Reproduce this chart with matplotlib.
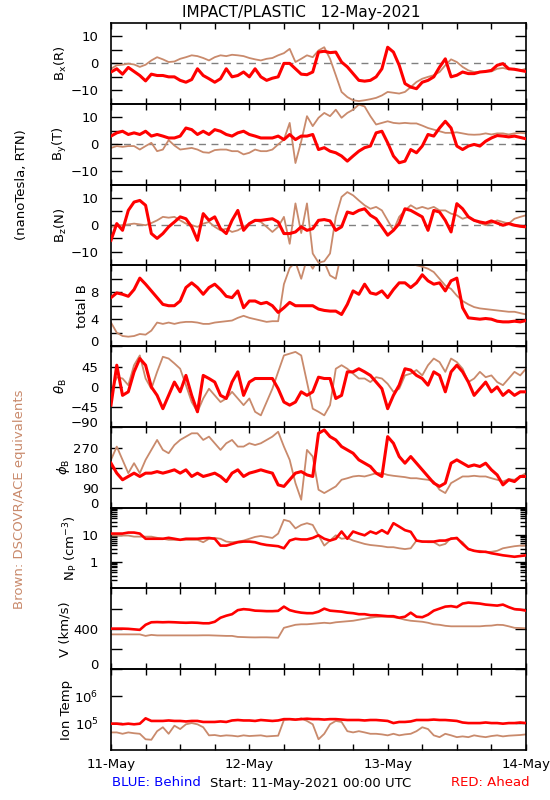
import numpy as np
import matplotlib
matplotlib.use("Agg")
import matplotlib.pyplot as plt
from matplotlib.ticker import FixedLocator, NullLocator, LogLocator

# ---------------- data (hourly readings, 11-May-2021 00:00 UTC .. 14-May 00:00) -------------
hours = list(range(0, 73))

bx_red = [-3.2, -2, -4, -1.5, -3, -4.5, -6.5, -4, -4.5, -4.5, -5, -5, -6.3, -7, -6, -2, -4.5, -5.7,
          -7, -5.7, -2, -5, -4.5, -3.2, -5, -2, -5, -6.3, -5.5, -5, 0, 0, -2, -4, -4.2, -3.2,
          4.2, 4.5, 4, 4.2, 0.5, -1.3, -3.8, -6.3, -6.6, -6.3, -5, -2, 6, 4.2, -0.7, -7.5,
          -8.8, -9.4, -7, -6.3, -5, -1.4, 1.7, -5, -4.4, -3.2, -3.8, -3.8, -3.2, -3, -2.6, -0.7,
          -0.1, -2, -2.2, -2.6, -3]
bx_brown = [-2, -0.7, -0.5, -0.1, -0.4, -1.3, -0.5, 1.1, 2.3, 1.5, 0.5, 0.7, 1.7, 2.3, 3, 2.7,
            2, 1.1, 2.3, 3, 2.7, 3.2, 3, 2.7, 2, 1.5, 1.1, 1.7, 2, 3, 3.8, 5.4, 0.5, 1.7, 3,
            2.3, 4.8, 6, 1.7, -4.4, -10.6, -12.5, -13.7, -14, -13.7, -13.3, -12.8, -11.9,
            -10.6, -10.9, -11.2, -10.6, -8.8, -6.9, -5.7, -5, -4.4, -3.2, -0.7, 1.5, 0.5,
            -1.3, -2.6, -3.2, -3.2, -3, -3, -2, -1.7, -2.2, -2, -2.6, -2]

by_red = [3, 4.2, 4.8, 3.6, 4.2, 3.6, 4.8, 3, 3.6, 3, 2.3, 2.3, 3, 6, 5.4, 3.6, 4.8, 3.6, 5.4,
          4.8, 3.6, 3, 4.2, 4.8, 3.6, 3, 2.3, 2.3, 2.3, 3, 1.7, 3.6, 1.7, 3, 3, 3.6, -2, -1.3,
          -2.6, -3.2, -4.4, -6.3, -4.4, -2.6, -1.3, -0.7, 4.2, 4.8, 0.5, -4.4, -6.9, -6.3, -2,
          -3.2, -0.7, 3.6, 3, 6, 8.5, 6, -0.7, -2, -0.7, -0.1, -0.7, 1.1, 2.3, 3.2, 3, 2.7, 3,
          2.5, 2]
by_brown = [-1.4, -0.7, -1, -0.7, -0.7, -2, -0.7, 0.5, -2.6, -2, 1.5, -0.5, -2, -1.7, -1.4, -2,
            -3, -3.2, -2.2, -2, -2, -2.6, -2.6, -3.8, -3.2, -2, -2.6, -2.6, -2, -0.1, 1.7, 7.9,
            -7, 1, 10.4, 6.7, 9.8, 11.6, 10.4, 12.8, 9.8, 11.6, 12.8, 14.7, 14, 10.4, 7.3, 7.9,
            8.5, 7.9, 7.7, 7.9, 7.7, 7.7, 6.9, 6, 5.4, 4.8, 4.2, 4.2, 4.4, 4, 3.6, 3.5, 3.6, 4,
            3.6, 4, 4, 3.6, 4, 4.2, 4]

bz_red = [-5.7, 0.5, -2, 5.4, 8.5, 9.1, 7.3, -3.2, -5, -3.2, -0.7, 1.1, 3, 2.3, -0.7, -5.7, 4.2,
          1.7, 3, -1.4, -3.2, 1.7, 5.4, -2, 0.5, 1.7, 1.7, 2, 2.3, 1.1, -3.2, -3.2, -2.6, -0.7,
          -2, -1.4, 1.7, 2, 1.5, -2, -0.7, 4.8, 4.2, 5.4, 6, 3.6, 2.3, -0.7, -3.8, -2, 0.5, 6,
          5.4, 4.2, 3, -2, 5.4, 4.8, 1.7, -2.6, 7.9, 6, 3, 1.7, 1.1, 0.7, 1.5, 0.7, -0.1, 0.5,
          -0.1, -0.5, -0.7]
bz_brown = [-0.7, -0.5, -0.1, 0.2, 0.5, 0.2, -0.1, 0.7, 1.7, 3, 2.7, 3, 1.7, 0.5, -0.1, -0.7,
            0.5, 1.1, -0.7, -2, -1.4, -2.6, -2, -0.7, 0.5, 1.7, 1.1, -0.7, -2.6, -0.7, 3, -7,
            8, -3, 8, -10.6, -14, -13.5, -10.6, 3, 10.4, 12.2, 11, 9.1, 7.3, 6, 6.7, 5.4, 1.7,
            -2, 3, 5.4, 7.3, 6, 6.7, 6, 6.7, 5.4, 5.4, 4.2, 3.6, 2.3, 3, 1.7, 0.7, -0.1, 0.7,
            1.7, 1.1, 0.5, 2.3, 3, 3.6]

bt_red = [7.2, 7.9, 7.7, 7.4, 8.4, 10.1, 9.2, 8.2, 7.2, 6.2, 6, 6, 6.7, 8.7, 9.4, 8.7, 7.7, 8.7,
          9.2, 8.4, 7.4, 7.2, 8.2, 5.7, 6.7, 6.7, 6.3, 6.5, 6, 5, 5.7, 6.5, 6, 6, 6, 6, 5.5,
          5.3, 5.2, 5.2, 4.7, 6.2, 8.2, 7.7, 9.2, 7.9, 7.7, 8.2, 7.2, 8.4, 9.4, 9.4, 8.7, 9.4,
          10.6, 9.7, 9.2, 9.4, 8.2, 9.7, 10.1, 5.7, 4.2, 4.1, 4, 4.1, 4, 3.7, 3.6, 3.6, 3.7,
          3.6, 3.8]
bt_brown = [3.5, 2, 1.5, 1.4, 1.5, 1.8, 1.7, 2.3, 3.5, 3.3, 3.5, 3.3, 3.5, 3.6, 3.6, 3.5, 3.3,
            3.3, 3.5, 3.6, 3.7, 3.8, 4.2, 4.5, 4.2, 4, 3.8, 3.6, 3.7, 3.7, 9.2, 11.6, 12.5, 10,
            13, 11.5, 13, 12.5, 10.5, 10, 14, 14.5, 15, 15, 15, 14.5, 14, 14, 13.5, 13.5, 13,
            12.8, 12.4, 12, 11.8, 11.5, 11, 10, 9, 8.5, 7.5, 6.7, 6.2, 5.8, 5.6, 5.5, 5.4, 5.3,
            5.2, 5.1, 5.1, 4.9, 4.7]

th_red = [-41, 49, -19, -11, 34, 64, 49, 0, -19, -49, -19, 11, -11, 26, -19, -56, 26, 19, 11,
          -19, -26, 11, 34, -19, 11, 19, 19, 19, 19, -4, -34, -41, -34, -11, -19, -11, 22, 19,
          19, -26, -19, 34, 34, 41, 34, 26, 11, -4, -49, -19, 4, 41, 38, 26, 19, 4, 34, 26,
          -11, 34, 49, 34, 11, -19, -4, 11, -11, 0, -19, -8, -19, -11, -11]
th_brown = [-11, 22, 19, 4, 49, 71, 19, -4, 34, 68, 64, 53, 41, 4, -34, -56, -26, -4, -19, -34,
            -26, -11, -26, -41, -26, -56, -64, -34, -4, 34, 71, 75, 79, 71, 11, -49, -56, -64,
            -41, 41, 49, 41, 30, 19, 19, 11, 22, 19, 7, -11, -4, 26, 30, 38, 26, 49, 64, 56,
            34, 64, 56, 41, 11, 19, 34, 22, 26, 11, 4, 19, 34, 26, 41]

ph_red = [201, 156, 126, 141, 156, 141, 156, 156, 163, 156, 163, 171, 156, 171, 141, 156, 141,
          148, 156, 141, 118, 156, 171, 141, 156, 163, 171, 163, 156, 103, 96, 126, 156, 163,
          148, 141, 336, 351, 321, 306, 276, 261, 246, 216, 201, 186, 156, 141, 321, 291, 231,
          201, 231, 201, 171, 141, 111, 96, 111, 201, 216, 201, 186, 193, 186, 201, 171, 148,
          103, 126, 118, 141, 141]
ph_brown = [216, 276, 216, 156, 201, 156, 216, 261, 306, 261, 246, 283, 306, 321, 336, 336,
            306, 321, 291, 261, 291, 306, 276, 276, 291, 283, 291, 306, 321, 343, 276, 216,
            111, 36, 261, 231, 81, 66, 81, 96, 126, 133, 141, 144, 141, 148, 156, 156, 148,
            144, 141, 138, 133, 133, 129, 126, 118, 81, 66, 111, 126, 141, 141, 144, 141, 141,
            133, 126, 118, 129, 126, 141, 156]

np_red = [10.9, 10.9, 10.9, 11.9, 11.9, 10.9, 7.0, 7.0, 7.0, 7.0, 7.6, 7.0, 6.4, 7.0, 7.0, 7.0,
          7.3, 7.5, 7.0, 3.9, 3.9, 4.5, 5.2, 5.5, 5.5, 5.2, 4.5, 4.1, 3.9, 3.7, 3.1, 6.0, 7.0,
          6.6, 6.6, 7.5, 9.4, 7.0, 6.0, 7.0, 13.0, 7.0, 13.0, 10.9, 9.4, 13.0, 10.9, 14.6,
          10.9, 26.5, 19.8, 14.6, 12.7, 6.0, 5.5, 5.5, 5.5, 6.0, 6.0, 7.0, 7.5, 4.5, 2.9, 2.5,
          2.3, 2.3, 2.03, 1.86, 1.7, 1.6, 1.5, 1.6, 1.7]
np_brown = [9.2, 9.2, 9.2, 9.2, 8.4, 8.4, 8.4, 8.4, 7.6, 7.0, 6.4, 6.4, 6.4, 6.4, 6.4, 6.4, 5.2,
            7.0, 7.5, 7.0, 5.5, 5.2, 5.5, 6.0, 7.0, 8.2, 8.9, 8.2, 7.5, 10.9, 35.5, 30.8, 17,
            22.8, 26.5, 22.8, 9.4, 3.9, 6.0, 9.4, 7.0, 7.5, 6.0, 5.2, 4.5, 4.1, 3.9, 3.7, 3.4,
            3.4, 3.1, 2.9, 3.1, 6.0, 5.5, 5.2, 5.2, 3.9, 4.5, 7.5, 7.0, 5.2, 2.9, 2.5, 2.5, 2.2,
            2.3, 2.5, 3.1, 3.4, 3.7, 3.9, 3.9]

v_red = [402, 402, 402, 400, 395, 390, 440, 465, 467, 465, 467, 465, 462, 460, 462, 460, 455,
         455, 470, 510, 530, 545, 585, 595, 590, 580, 578, 575, 575, 578, 620, 585, 570, 560,
         555, 555, 570, 600, 580, 575, 570, 560, 555, 545, 545, 535, 535, 530, 525, 525, 510,
         520, 560, 520, 515, 540, 580, 600, 620, 625, 615, 650, 660, 655, 650, 640, 635, 630,
         640, 615, 595, 590, 580]
v_brown = [345, 345, 345, 345, 345, 345, 330, 340, 335, 335, 335, 335, 335, 335, 335, 335, 336,
           336, 334, 332, 330, 330, 320, 318, 316, 315, 316, 316, 314, 312, 410, 425, 440, 445,
           445, 450, 455, 460, 455, 465, 470, 475, 480, 490, 500, 510, 518, 520, 520, 515, 505,
           490, 480, 475, 470, 460, 445, 440, 430, 425, 425, 425, 425, 425, 425, 430, 432, 440,
           438, 425, 410, 408, 405]

t_red = [0.95e5, 0.95e5, 0.9e5, 0.95e5, 0.9e5, 0.95e5, 1.5e5, 1.2e5, 1.2e5, 1.2e5, 1.25e5,
         1.2e5, 1.2e5, 1.15e5, 1.2e5, 1.2e5, 1.1e5, 1.1e5, 1.1e5, 1.15e5, 1.1e5, 1.25e5, 1.3e5,
         1.25e5, 1.25e5, 1.2e5, 1.3e5, 1.25e5, 1.2e5, 1.25e5, 1.4e5, 1.4e5, 1.35e5, 1.4e5,
         1.45e5, 1.4e5, 1.4e5, 1.35e5, 1.4e5, 1.4e5, 1.35e5, 1.3e5, 1.3e5, 1.3e5, 1.25e5,
         1.3e5, 1.3e5, 1.25e5, 1.2e5, 1.0e5, 1.1e5, 1.1e5, 1.15e5, 1.3e5, 1.3e5, 1.3e5,
         1.35e5, 1.3e5, 1.3e5, 1.25e5, 1.2e5, 1.05e5, 1.0e5, 1.0e5, 1.0e5, 1.05e5, 1.0e5,
         1.0e5, 0.95e5, 1.0e5, 1.0e5, 1.05e5, 1.0e5]
t_brown = [4.5e4, 4.5e4, 4.0e4, 4.5e4, 4.2e4, 4.0e4, 2.5e4, 2.4e4, 5.0e4, 7.0e4, 4.0e4, 8.0e4,
           6.0e4, 9.0e4, 1.0e5, 9.0e4, 7.0e4, 3.5e4, 3.6e4, 3.3e4, 3.5e4, 3.4e4, 3.2e4,
           3.5e4, 3.3e4, 3.4e4, 3.5e4, 3.2e4, 3.3e4, 3.4e4, 1.3e5, 1.4e5, 1.3e5, 1.5e5,
           1.2e5, 9.0e4, 2.5e4, 4.0e4, 9.0e4, 1.2e5, 1.1e5, 5.0e4, 4.5e4, 5.0e4, 4.5e4,
           4.0e4, 4.0e4, 3.8e4, 3.5e4, 4.0e4, 3.5e4, 3.8e4, 4.0e4, 5.0e4, 7.0e4, 6.0e4,
           3.5e4, 3.0e4, 4.0e4, 3.5e4, 3.0e4, 3.2e4, 3.0e4, 3.5e4, 3.2e4, 3.0e4, 3.3e4,
           3.5e4, 3.2e4, 3.4e4, 3.5e4, 3.6e4, 3.8e4]

day_labels = ["11-May", "12-May", "13-May", "14-May"]

# ---------------- styling -------------------------------------------------------------------
RED = "#ff0000"
BROWN = "#c98a6c"
plt.rcParams["font.family"] = ["DejaVu Sans"]
FS = 9.5

fig = plt.figure(figsize=(5.5, 8.0), dpi=100)
left, right = 111 / 550, 526 / 550
top, bottom = 1 - 23 / 800, 1 - 750 / 800
n = 9
h = (top - bottom) / n
axes = [fig.add_axes([left, top - (i + 1) * h, right - left, h]) for i in range(n)]

panels = [
    (bx_red, bx_brown, r"B$_\mathregular{x}$(R)", (-15, 15), [-10, -5, 0, 5, 10], ["\u221210", "", "0", "", "10"], "lin"),
    (by_red, by_brown, r"B$_\mathregular{y}$(T)", (-15, 15), [-10, -5, 0, 5, 10], ["\u221210", "", "0", "", "10"], "lin"),
    (bz_red, bz_brown, r"B$_\mathregular{z}$(N)", (-15, 15), [-10, -5, 0, 5, 10], ["\u221210", "", "0", "", "10"], "lin"),
    (bt_red, bt_brown, "total B", (0, 12), [0, 2, 4, 6, 8, 10], ["0", "", "4", "", "8", ""], "lin"),
    (th_red, th_brown, r"$\theta_\mathregular{B}$", (-90, 92), [-90, -45, 0, 45], ["\u221290", "\u221245", "0", "45"], "lin"),
    (ph_red, ph_brown, r"$\phi_\mathregular{B}$", (0, 365), [0, 90, 180, 270], ["0", "90", "180", "270"], "lin"),
    (np_red, np_brown, r"N$_\mathregular{P}$ (cm$^{\mathregular{-3}}$)", (0.1, 100), [1, 10], ["1", "10"], "log"),
    (v_red, v_brown, "V (km/s)", (0, 800), [0, 200, 400, 600], ["0", "", "400", ""], "lin"),
    (t_red, t_brown, "Ion Temp", (1e4, 1e7), [1e5, 1e6], [r"10$^\mathregular{5}$", r"10$^\mathregular{6}$"], "log"),
]

for i, (ax, (red, brown, lab, ylim, yt, ytl, scale)) in enumerate(zip(axes, panels)):
    ax.set_facecolor("none")
    if scale == "log":
        ax.set_yscale("log")
    ax.plot(hours, brown, color=BROWN, lw=1.3, zorder=2)
    ax.plot(hours, red, color=RED, lw=2.2 if i < 6 else 1.9, zorder=3)
    if i < 3:
        ax.axhline(0, color="#808080", lw=1.0, ls=(0, (5, 4)), zorder=1)
    ax.set_xlim(0, 72)
    ax.set_ylim(*ylim)
    ax.yaxis.set_major_locator(FixedLocator(yt))
    ax.set_yticklabels(ytl)
    if scale == "log":
        if i == 6:
            ax.yaxis.set_minor_locator(LogLocator(base=10, subs=np.arange(2, 10)))
        else:
            ax.yaxis.set_minor_locator(NullLocator())
    ax.set_xticks(range(0, 73, 6))
    ax.xaxis.set_minor_locator(NullLocator())
    if i == n - 1:
        ax.set_xticklabels([day_labels[k // 24] if k % 24 == 0 else "" for k in range(0, 73, 6)])
    else:
        ax.set_xticklabels([])
    ax.tick_params(axis="both", which="both", direction="in", top=True, right=True,
                   labelsize=FS, width=1.0)
    ax.tick_params(axis="y", which="major", length=8, pad=9)
    ax.tick_params(axis="y", which="minor", length=4)
    ax.tick_params(axis="x", which="major", length=4, pad=6)
    for sp in ax.spines.values():
        sp.set_linewidth(1.2)
    ax.set_ylabel(lab, fontsize=FS, labelpad=1)
    # tick label sitting on the bottom edge is lifted slightly, as in the original
    if yt[0] == ylim[0]:
        ax.get_yticklabels()[0].set_va("baseline")

fig.text(301 / 550, 1 - 12 / 800, "IMPACT/PLASTIC   12-May-2021", ha="center", va="center",
         fontsize=11)
fig.text(22 / 550, 1 - 185 / 800, "(nanoTesla, RTN)", rotation=90, ha="center", va="center",
         fontsize=FS)
fig.text(20 / 550, 1 - 499 / 800, "Brown: DSCOVR/ACE equivalents", rotation=90, ha="center",
         va="center", fontsize=FS, color=BROWN)
fig.text(112 / 550, 1 - 783 / 800, "BLUE: Behind", ha="left", va="center", fontsize=FS,
         color="#0000ff")
fig.text(210 / 550, 1 - 783 / 800, "Start: 11-May-2021 00:00 UTC", ha="left", va="center",
         fontsize=FS, color="black")
fig.text(451 / 550, 1 - 783 / 800, "RED: Ahead", ha="left", va="center", fontsize=FS,
         color=RED)

fig.savefig("out.png", dpi=100)
